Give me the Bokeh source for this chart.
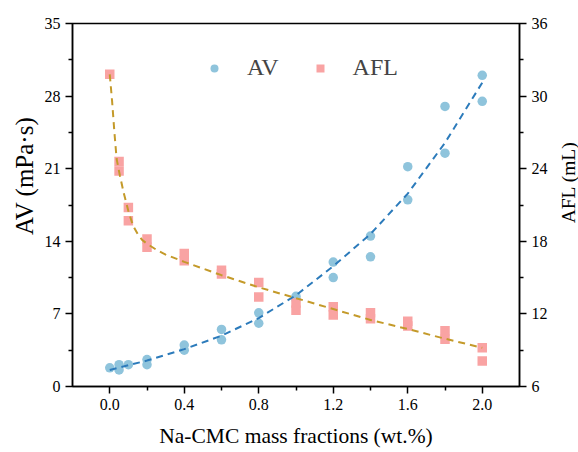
import math
from bokeh.plotting import figure
from bokeh.layouts import row
from bokeh.models import Range1d, LinearAxis, FixedTicker, Legend, LegendItem, NumeralTickFormatter
from bokeh.core.properties import value
from bokeh.embed import file_html
from bokeh.resources import INLINE

# ---- data ----
x_av = [0.0, 0.05, 0.05, 0.1, 0.2, 0.2, 0.4, 0.4, 0.6, 0.6, 0.8, 0.8, 1.0, 1.0,
        1.2, 1.2, 1.4, 1.4, 1.6, 1.6, 1.8, 1.8, 2.0, 2.0]
av = [1.8, 2.1, 1.6, 2.1, 2.6, 2.1, 4.0, 3.5, 5.5, 4.5, 7.1, 6.1, 8.7, 8.4,
      12.0, 10.5, 14.5, 12.5, 21.2, 18.0, 27.0, 22.5, 30.0, 27.5]

x_afl = [0.0, 0.05, 0.05, 0.1, 0.1, 0.2, 0.2, 0.4, 0.4, 0.6, 0.6, 0.8, 0.8, 1.0, 1.0,
         1.2, 1.2, 1.4, 1.4, 1.6, 1.6, 1.8, 1.8, 2.0, 2.0]
afl = [31.8, 24.6, 23.8, 20.8, 19.7, 18.2, 17.5, 17.0, 16.4, 15.6, 15.3, 14.6, 13.4, 12.9, 12.3,
       12.6, 11.9, 12.1, 11.6, 11.4, 11.0, 10.6, 9.9, 9.2, 8.1]

# fitted trend lines
x_av_fit = [0.0, 0.2, 0.4, 0.6, 0.8, 1.0, 1.2, 1.4, 1.6, 1.8, 2.0]
av_fit = [1.6, 2.5, 3.6, 4.9, 6.6, 8.8, 11.6, 14.7, 18.6, 23.5, 29.3]

x_afl_fit = [0.0, 0.0125, 0.025, 0.037, 0.055, 0.075, 0.1, 0.125, 0.15, 0.175, 0.2,
             0.25, 0.3, 0.4, 0.6, 0.8, 1.0, 1.2, 1.4, 1.6, 1.8, 2.0]
afl_fit = [31.8, 29.6, 27.0, 24.8, 23.4, 22.0, 20.5, 19.3, 18.6, 18.1, 17.8,
           17.3, 16.9, 16.3, 15.2, 14.2, 13.3, 12.4, 11.5, 10.75, 9.95, 9.2]

x_ticks = [0.0, 0.4, 0.8, 1.2, 1.6, 2.0]
av_ticks = [0, 7, 14, 21, 28, 35]
afl_ticks = [6, 12, 18, 24, 30, 36]

left_title = "AV (mPa·s)"
right_title = "AFL (mL)"
x_title = "Na-CMC mass fractions (wt.%)"

FONT = "Liberation Serif"
H = 450

p = figure(width=518, height=H, output_backend="svg", toolbar_location=None,
           x_range=Range1d(-0.2, 2.2), y_range=Range1d(0, 35))
p.extra_y_ranges = {"afl": Range1d(6, 36)}
p.min_border_left = 32
p.min_border_right = 39
p.min_border_top = 23
p.min_border_bottom = 64
p.xgrid.visible = False
p.ygrid.visible = False
p.outline_line_color = "black"
p.outline_line_width = 1.5
p.background_fill_color = "white"
p.border_fill_color = "white"

r_av = p.scatter(x_av, av, marker="circle", size=9.5, fill_color="#8fc4dc",
                 line_color=None, fill_alpha=1.0)
r_afl = p.scatter(x_afl, afl, marker="square", size=9.5, fill_color="#f9a3a3",
                  line_color=None, y_range_name="afl")
p.line(x_av_fit, av_fit, line_color="#2c7bbb", line_width=2, line_dash="7 5")
p.line(x_afl_fit, afl_fit, line_color="#c49a2a", line_width=2, line_dash="7 5",
       y_range_name="afl")

right = LinearAxis(y_range_name="afl")
p.add_layout(right, "right")

def style(ax):
    ax.axis_line_width = 1.5
    ax.axis_line_color = "black"
    ax.major_tick_line_width = 1.5
    ax.minor_tick_line_width = 1.5
    ax.major_tick_out = 7
    ax.major_tick_in = 0
    ax.minor_tick_out = 4
    ax.minor_tick_in = 0
    ax.major_label_text_font = FONT
    ax.major_label_text_font_size = "16px"
    ax.major_label_text_color = "black"
    ax.axis_label_text_font = FONT
    ax.axis_label_text_font_style = "normal"
    ax.axis_label_text_color = "black"

xa = p.xaxis[0]
ya = p.yaxis[0]
for ax in (xa, ya, right):
    style(ax)

xa.ticker = FixedTicker(ticks=x_ticks, minor_ticks=[0.2, 0.6, 1.0, 1.4, 1.8])
xa.formatter = NumeralTickFormatter(format="0.0")
xa.axis_label = x_title
xa.axis_label_text_font_size = "21.5px"
xa.axis_label_standoff = 11

ya.ticker = FixedTicker(ticks=av_ticks, minor_ticks=[3.5, 10.5, 17.5, 24.5, 31.5])
right.ticker = FixedTicker(ticks=afl_ticks, minor_ticks=[9, 15, 21, 27, 33])

legend = Legend(items=[LegendItem(label="AV", renderers=[r_av]),
                       LegendItem(label="AFL", renderers=[r_afl])],
                orientation="horizontal", location=(132, 305))
legend.label_text_font = FONT
legend.label_text_font_size = "24px"
legend.border_line_color = None
legend.background_fill_alpha = 0
legend.padding = 0
legend.spacing = 31
legend.label_standoff = 23
legend.glyph_width = 20
p.add_layout(legend, "center")


def title_strip(width, text, cx, cy, size):
    s = figure(width=width, height=H, output_backend="svg", toolbar_location=None,
               x_range=Range1d(0, width), y_range=Range1d(0, H),
               x_axis_type=None, y_axis_type=None, min_border=0)
    s.xgrid.visible = False
    s.ygrid.visible = False
    s.outline_line_color = None
    s.background_fill_color = "white"
    s.border_fill_color = "white"
    s.text(x=[cx], y=[cy], text=[text], angle=math.pi / 2,
           text_align="center", text_baseline="middle",
           text_font=value(FONT), text_font_size=size,
           text_color="black")
    return s

left_strip = title_strip(40, left_title, 24, H - 189, "25px")
right_strip = title_strip(20, right_title, 10, H - 197, "19.5px")

layout = row(left_strip, p, right_strip, spacing=0)
open("out.html", "w").write(file_html(layout, INLINE))
